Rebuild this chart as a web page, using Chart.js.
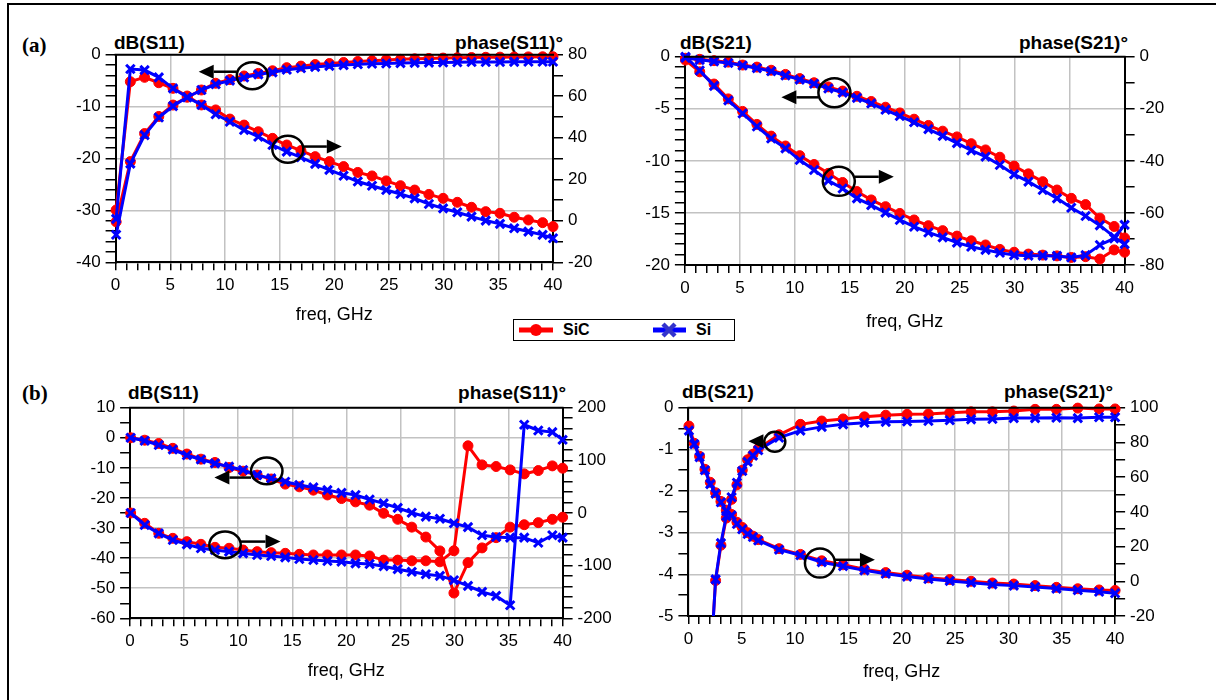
<!DOCTYPE html>
<html><head><meta charset="utf-8">
<script src="https://cdn.jsdelivr.net/npm/chart.js@4.4.1/dist/chart.umd.min.js"></script>
<style>
html,body{margin:0;padding:0;background:#fff;}
body{width:1216px;height:700px;position:relative;overflow:hidden;font-family:"Liberation Sans",Arial,sans-serif;}
canvas{position:absolute;}
.lbl{position:absolute;white-space:nowrap;line-height:22px;height:22px;color:#000;}
.ttl{font-weight:bold;font-size:19px;}
.pan{font-family:"Liberation Serif","Times New Roman",serif;font-weight:bold;font-size:21px;}
#frame{position:absolute;left:7px;top:3px;width:1300px;height:800px;border-left:2px solid #000;border-top:2px solid #000;}
#legend{position:absolute;left:513px;top:319px;width:220px;height:20px;border:1.5px solid #000;background:#fff;}
#legend svg{position:absolute;left:0;top:0;}
#legend span{position:absolute;top:0;line-height:20px;font-weight:bold;font-size:16px;}
</style></head><body>
<div id="frame"></div>
<div class="lbl pan" style="left:22px;top:34px;">(a)</div>
<div class="lbl ttl" style="left:114px;top:32px;">dB(S11)</div>
<div class="lbl ttl" style="right:653px;top:32px;">phase(S11)°</div>
<div class="lbl ttl" style="left:680px;top:32px;">dB(S21)</div>
<div class="lbl ttl" style="right:88px;top:32px;">phase(S21)°</div>
<div class="lbl pan" style="left:22px;top:382px;">(b)</div>
<div class="lbl ttl" style="left:128px;top:382px;">dB(S11)</div>
<div class="lbl ttl" style="right:650px;top:382px;">phase(S11)°</div>
<div class="lbl ttl" style="left:682px;top:381px;">dB(S21)</div>
<div class="lbl ttl" style="right:103px;top:381px;">phase(S21)°</div>
<div id="legend">
  <svg width="220" height="20">
    <line x1="5" y1="10" x2="39" y2="10" stroke="#ff0000" stroke-width="5"/>
    <circle cx="22" cy="10" r="6" fill="#ff0000"/>
    <line x1="139" y1="10" x2="172" y2="10" stroke="#0000ff" stroke-width="5"/>
    <line x1="149" y1="4" x2="161" y2="16" stroke="#3333cc" stroke-width="4.5"/>
    <line x1="149" y1="16" x2="161" y2="4" stroke="#3333cc" stroke-width="4.5"/>
  </svg>
  <span style="left:49px;">SiC</span>
  <span style="left:182px;">Si</span>
</div>
<canvas id="cA1"></canvas>
<canvas id="cA2"></canvas>
<canvas id="cB1"></canvas>
<canvas id="cB2"></canvas>
<script>
// ---------- frequency points (GHz) ----------
const freqA = [0.05, 1.35, 2.65, 3.95, 5.25, 6.55, 7.85, 9.15, 10.45, 11.75, 13.05, 14.35, 15.65, 16.95, 18.25, 19.55,
               20.85, 22.15, 23.45, 24.75, 26.05, 27.35, 28.65, 29.95, 31.25, 32.55, 33.85, 35.15, 36.45, 37.75, 39.05, 40];
const freqB = [0.05, 0.55, 1.05, 1.55, 2.05, 2.55, 3.05, 3.55, 4.05, 4.55, 5.05, 5.55, 6.05, 6.55,
               8.5, 10.5, 12.5, 14.5, 16.5, 18.5, 20.5, 22.5, 24.5, 26.5, 28.5, 30.5, 32.5, 34.5, 36.5, 38.5, 40];

// ---------- (a) S11 ----------
const a_S11_dB_SiC = [-32.2, -20.6, -15.2, -11.9, -9.7, -8.2, -6.8, -5.5, -4.8, -4.1, -3.6, -3.1, -2.5, -2.2, -1.9, -1.7,
                      -1.5, -1.3, -1.15, -1.0, -0.9, -0.8, -0.72, -0.65, -0.6, -0.55, -0.5, -0.47, -0.45, -0.42, -0.4, -0.4];
const a_S11_dB_Si  = [-34.7, -21, -15.5, -12.1, -9.9, -8.2, -6.8, -5.7, -5.0, -4.4, -3.8, -3.4, -2.9, -2.6, -2.35, -2.15,
                      -2.0, -1.85, -1.75, -1.7, -1.62, -1.57, -1.52, -1.5, -1.45, -1.42, -1.4, -1.4, -1.38, -1.36, -1.35, -1.35];
const a_S11_ph_SiC = [5.2, 67, 69.1, 66.5, 63.8, 60.1, 55.8, 53.4, 49, 46.1, 42.9, 39.7, 36.5, 33.8, 30.9, 28.5,
                      26.1, 23.3, 21.6, 19.2, 16.9, 14.8, 12.7, 10.8, 8.9, 6.5, 4.4, 3.6, 1.7, 0.4, -0.9, -2.8];
const a_S11_ph_Si  = [0.9, 73.1, 72.6, 69.1, 63.8, 59.5, 55.8, 51.3, 47.7, 43.7, 40.5, 36.5, 33.3, 30.6, 27.4, 24.5,
                      21.7, 18.9, 16.9, 14.8, 12.9, 10.8, 8.1, 6.0, 4.1, 2.0, 0.1, -1.5, -3.6, -5.2, -6.8, -8.4];
// ---------- (a) S21 ----------
const a_S21_dB_SiC = [-0.15, -0.25, -0.38, -0.52, -0.8, -1.0, -1.3, -1.7, -2.1, -2.5, -2.9, -3.3, -3.8, -4.3, -4.85, -5.4,
                      -6.0, -6.6, -7.15, -7.7, -8.35, -8.95, -9.65, -10.5, -11.25, -12.0, -12.8, -13.6, -14.2, -15.5, -16.3, -17.4];
const a_S21_dB_Si  = [-0.1, -0.3, -0.45, -0.6, -0.85, -1.1, -1.4, -1.8, -2.2, -2.6, -3.05, -3.45, -3.95, -4.5, -5.1, -5.7,
                      -6.3, -6.95, -7.6, -8.3, -9.0, -9.6, -10.4, -11.3, -12.0, -12.8, -13.6, -14.5, -15.3, -16.2, -17.3, -18.0];
const a_S21_ph_SiC = [-1.3, -5.8, -10.5, -16.2, -21, -26, -30.5, -34.3, -38, -41.4, -44.8, -48.3, -51.8, -55, -57.6, -60.2,
                      -62.7, -64.9, -66.8, -68.9, -70.7, -72.3, -74, -75.1, -75.8, -76.2, -76.5, -77.1, -76.8, -77.7, -74.2, -75.1];
const a_S21_ph_Si  = [0, -5.3, -11.2, -16.8, -21.8, -26.8, -31.4, -35.2, -39.7, -43.5, -47.6, -50.6, -54.4, -57, -59.9, -62.7,
                      -65.3, -67.5, -69.4, -71.4, -73, -74.2, -75.3, -76.2, -76.4, -76.4, -76.5, -77.1, -76.2, -72.3, -69.8, -64.6];
// ---------- (b) S11 ----------
const b_S11_dB_SiC = [0, -0.8, -1.9, -3.5, -5.4, -7.1, -8.2, -9.9, -11.1, -12.4, -13.7, -15.4, -16.3, -17.4, -19.0, -20.2,
                      -21.3, -22.4, -25.1, -27.1, -29.7, -33.0, -37.6, -51.6, -41.5, -36.6, -33.2, -29.7, -28.9, -28.2, -27.1, -26.4];
const b_S11_dB_Si  = [0, -1.0, -2.4, -3.9, -5.8, -7.2, -8.5, -9.6, -10.7, -12.4, -13.5, -14.6, -15.7, -16.5, -17.4, -18.3,
                      -19.0, -20.5, -21.8, -23.3, -24.9, -26.2, -26.9, -28.4, -29.7, -32.4, -33.0, -33.2, -33.2, -34.9, -32.4, -33.2];
const b_S11_ph_SiC = [0, -19.6, -38.6, -48.1, -54.4, -59.5, -65.2, -67, -70.3, -73.4, -75.3, -76.6, -78.5, -79.7, -79.7, -79.7,
                      -79.7, -81.6, -89.5, -89.5, -90.8, -90.8, -92.7, -71.7, 127.6, 91.4, 88.3, 81.9, 74.3, 80.6, 89.5, 85.1];
const b_S11_ph_Si  = [0, -22.8, -38.6, -51.3, -59.5, -67, -70.3, -73.4, -76.6, -79.7, -81.6, -84.2, -87.3, -89.2, -91.1, -92.4,
                      -95.6, -96.8, -101, -106.7, -111.7, -116.2, -119.4, -127.6, -138.4, -149.8, -157.5, -175.2, 167.6, 156.8, 153.7, 139];
// ---------- (b) S21 ----------
const b_S21_dB_SiC = [-28, -18, -12, -8.5, -6.2, -4.15, -3.3, -2.65, -2.2, -1.85, -1.5, -1.25, -1.12, -0.98,
                      -0.65, -0.4, -0.32, -0.27, -0.22, -0.18, -0.16, -0.15, -0.12, -0.1, -0.1, -0.08, -0.04, -0.04, -0.01, -0.03, -0.03];
const b_S21_dB_Si  = [-30, -19, -12.5, -8.8, -6.3, -4.12, -3.25, -2.6, -2.15, -1.8, -1.52, -1.3, -1.15, -1.02,
                      -0.72, -0.55, -0.46, -0.4, -0.36, -0.34, -0.33, -0.32, -0.3, -0.28, -0.27, -0.25, -0.25, -0.24, -0.25, -0.23, -0.23];
const b_S21_ph_SiC = [89.4, 79.5, 72, 64.5, 57, 51, 46, 41, 38.5, 34, 31, 28, 26, 24,
                      18.8, 15.5, 11.8, 9.5, 7, 5, 3.5, 2, 1, 0, -1, -1.6, -2.5, -3.5, -4.3, -5, -5.3];
const b_S21_ph_Si  = [86.8, 79, 71.5, 64, 56, 50.5, 45.5, 40.5, 38, 33, 30, 27.2, 25.5, 23.5,
                      18.2, 15, 11, 8.7, 6.3, 4.3, 2.7, 1.3, 0.2, -0.8, -1.8, -2.5, -3.3, -4.2, -5.1, -6, -6.9];

// ---------- axis ranges / tick labels ----------
const xAxis      = {min: 0, max: 40, step: 1, label: 5, title: 'freq, GHz'};
const aS11Left   = {min: -40, max: 0, step: 2, label: 10};
const aS11Right  = {min: -20, max: 80, step: 10, label: 20};
const aS21Left   = {min: -20, max: 0, step: 1, label: 5};
const aS21Right  = {min: -80, max: 0, step: 10, label: 20};
const bS11Left   = {min: -60, max: 10, step: 5, label: 10};
const bS11Right  = {min: -200, max: 200, step: 20, label: 100};
const bS21Left   = {min: -5, max: 0, step: 0.5, label: 1};
const bS21Right  = {min: -20, max: 100, step: 10, label: 20};

const RED = '#ff0000', BLUE = '#0000ff';
const FONT = '"Liberation Sans", Arial, sans-serif';

const notesPlugin = {
  id: 'notes',
  afterDraw(chart, args, opts) {
    const {ctx, chartArea: a} = chart;
    ctx.save();
    ctx.strokeStyle = '#000'; ctx.fillStyle = '#000';
    ctx.lineWidth = 2;
    ctx.beginPath(); ctx.moveTo(a.left - 1, a.top); ctx.lineTo(a.right + 1, a.top); ctx.stroke();
    (opts.items || []).forEach(n => {
      const cx = chart.scales.x.getPixelForValue(n.x);
      const cy = chart.scales.yL.getPixelForValue(n.y);
      ctx.lineWidth = 2.5;
      ctx.beginPath(); ctx.ellipse(cx, cy, n.rx, n.ry, 0, 0, Math.PI * 2); ctx.stroke();
      const dir = n.dx < 0 ? -1 : 1;
      const tipX = cx + n.dx, tipY = cy + n.dy;
      const hl = 15, hh = 7;
      const baseX = tipX - dir * hl;
      const startX = cx + dir * n.rx;
      if ((baseX - startX) * dir > 0) {
        ctx.beginPath(); ctx.moveTo(startX, tipY); ctx.lineTo(baseX, tipY); ctx.stroke();
      }
      ctx.beginPath(); ctx.moveTo(tipX, tipY); ctx.lineTo(baseX, tipY - hh); ctx.lineTo(baseX, tipY + hh); ctx.closePath(); ctx.fill();
    });
    ctx.restore();
  }
};

function isMult(v, m) { const r = v / m; return Math.abs(r - Math.round(r)) < 1e-6; }

function makeDataset(label, xs, ys, axis, red, clip) {
  return {
    label, yAxisID: axis, xAxisID: 'x',
    data: xs.map((f, i) => ({x: f, y: ys[i]})),
    borderColor: red ? RED : BLUE,
    backgroundColor: red ? RED : BLUE,
    borderWidth: 3,
    pointStyle: red ? 'circle' : 'crossRot',
    pointRadius: red ? 5 : 6,
    pointBorderWidth: red ? 1 : 3,
    pointBackgroundColor: red ? RED : BLUE,
    pointBorderColor: red ? RED : BLUE,
    tension: 0, fill: false,
    order: red ? 2 : 1,
    clip
  };
}

function yScale(r, pos, w, grid) {
  return {
    type: 'linear', position: pos, min: r.min, max: r.max,
    afterFit: s => { s.width = w; s.paddingTop = 0; s.paddingBottom = 0; },
    ticks: {
      stepSize: r.step, autoSkip: false, padding: 5, color: '#000',
      font: {family: FONT, size: 17},
      callback: v => isMult(v, r.label) ? String(Math.round(v * 100) / 100) : ''
    },
    grid: {
      drawOnChartArea: grid,
      color: c => (c.tick && isMult(c.tick.value, r.label)) ? '#c2c2c2' : 'rgba(0,0,0,0)',
      lineWidth: 1.5, tickColor: '#000', tickWidth: 1.5, tickLength: 10
    },
    border: {display: true, color: '#000', width: 2}
  };
}

function makeChart(id, spec) {
  const cv = document.getElementById(id);
  const leftW = spec.area.l - spec.left;
  const rightW = spec.left + spec.w - spec.area.r;
  const padTop = spec.area.t - spec.top;
  const bottomH = spec.titleY + 10.8 - spec.area.b;
  const h = Math.ceil(spec.area.b - spec.top + bottomH);
  cv.width = spec.w; cv.height = h;
  cv.style.left = spec.left + 'px'; cv.style.top = spec.top + 'px';
  cv.style.width = spec.w + 'px'; cv.style.height = h + 'px';
  const clip = spec.clip || {left: 10, right: 10, top: 10, bottom: 10};
  new Chart(cv, {
    type: 'line',
    data: {
      datasets: [
        makeDataset('SiC', spec.fx, spec.s[0], 'yL', true, clip),
        makeDataset('SiC', spec.fx, spec.s[1], 'yR', true, clip),
        makeDataset('Si', spec.fx, spec.s[2], 'yL', false, clip),
        makeDataset('Si', spec.fx, spec.s[3], 'yR', false, clip)
      ]
    },
    options: {
      responsive: false, animation: false, devicePixelRatio: 1,
      layout: {autoPadding: false, padding: {top: padTop, left: 0, right: 0, bottom: h - (spec.area.b - spec.top) - bottomH}},
      plugins: {legend: {display: false}, tooltip: {enabled: false}, notes: {items: spec.notes}},
      scales: {
        x: {
          type: 'linear', position: 'bottom', min: xAxis.min, max: xAxis.max,
          afterFit: s => { s.height = bottomH; s.paddingLeft = 0; s.paddingRight = 0; },
          ticks: {
            stepSize: xAxis.step, autoSkip: false, maxRotation: 0, padding: 5, color: '#000',
            font: {family: FONT, size: 17},
            callback: v => isMult(v, xAxis.label) ? String(Math.round(v)) : ''
          },
          grid: {
            color: c => (c.tick && isMult(c.tick.value, xAxis.label)) ? '#c2c2c2' : 'rgba(0,0,0,0)',
            lineWidth: 1.5, tickColor: '#000', tickWidth: 1.5, tickLength: 8
          },
          border: {display: true, color: '#000', width: 2},
          title: {display: true, text: xAxis.title, color: '#000', padding: 0,
                  font: {family: FONT, size: 18, lineHeight: 1.2}}
        },
        yL: yScale(spec.yl, 'left', leftW, true),
        yR: yScale(spec.yr, 'right', rightW, false)
      }
    },
    plugins: [notesPlugin]
  });
}

makeChart('cA1', {
  left: 40, top: 40, w: 580, area: {l: 115.6, r: 553, t: 54.7, b: 262.3}, titleY: 315,
  fx: freqA, s: [a_S11_dB_SiC, a_S11_ph_SiC, a_S11_dB_Si, a_S11_ph_Si],
  yl: aS11Left, yr: aS11Right,
  notes: [{x: 12.5, y: -4.05, rx: 15.5, ry: 13.5, dx: -53.6, dy: -4},
          {x: 15.75, y: -18.2, rx: 15.5, ry: 13.5, dx: 54, dy: -2.6}]
});
makeChart('cA2', {
  left: 620, top: 40, w: 596, area: {l: 684.9, r: 1124.6, t: 56.7, b: 265}, titleY: 321.7,
  fx: freqA, s: [a_S21_dB_SiC, a_S21_ph_SiC, a_S21_dB_Si, a_S21_ph_Si],
  yl: aS21Left, yr: aS21Right,
  notes: [{x: 13.6, y: -3.46, rx: 16, ry: 14.5, dx: -53, dy: 4.6},
          {x: 14.0, y: -11.97, rx: 16, ry: 14.5, dx: 55, dy: -4.6}]
});
makeChart('cB1', {
  left: 40, top: 395, w: 580, area: {l: 130.1, r: 562.6, t: 407.7, b: 618.3}, titleY: 670.7,
  fx: freqA, s: [b_S11_dB_SiC, b_S11_ph_SiC, b_S11_dB_Si, b_S11_ph_Si],
  yl: bS11Left, yr: bS11Right,
  notes: [{x: 12.64, y: -11.0, rx: 15.7, ry: 13.3, dx: -52.4, dy: 6.7},
          {x: 8.78, y: -35.6, rx: 15.7, ry: 13.3, dx: 55.5, dy: -3.3}]
});
makeChart('cB2', {
  left: 620, top: 395, w: 596, area: {l: 688.4, r: 1115.1, t: 407.7, b: 616}, titleY: 671.7,
  fx: freqB, s: [b_S21_dB_SiC, b_S21_ph_SiC, b_S21_dB_Si, b_S21_ph_Si],
  yl: bS21Left, yr: bS21Right,
  clip: {left: 10, right: 10, top: 10, bottom: 0},
  notes: [{x: 8.1, y: -0.82, rx: 10.5, ry: 10, dx: -26.4, dy: -0.7},
          {x: 12.33, y: -3.73, rx: 15, ry: 14.5, dx: 55, dy: -3.3}]
});
</script>
</body></html>
